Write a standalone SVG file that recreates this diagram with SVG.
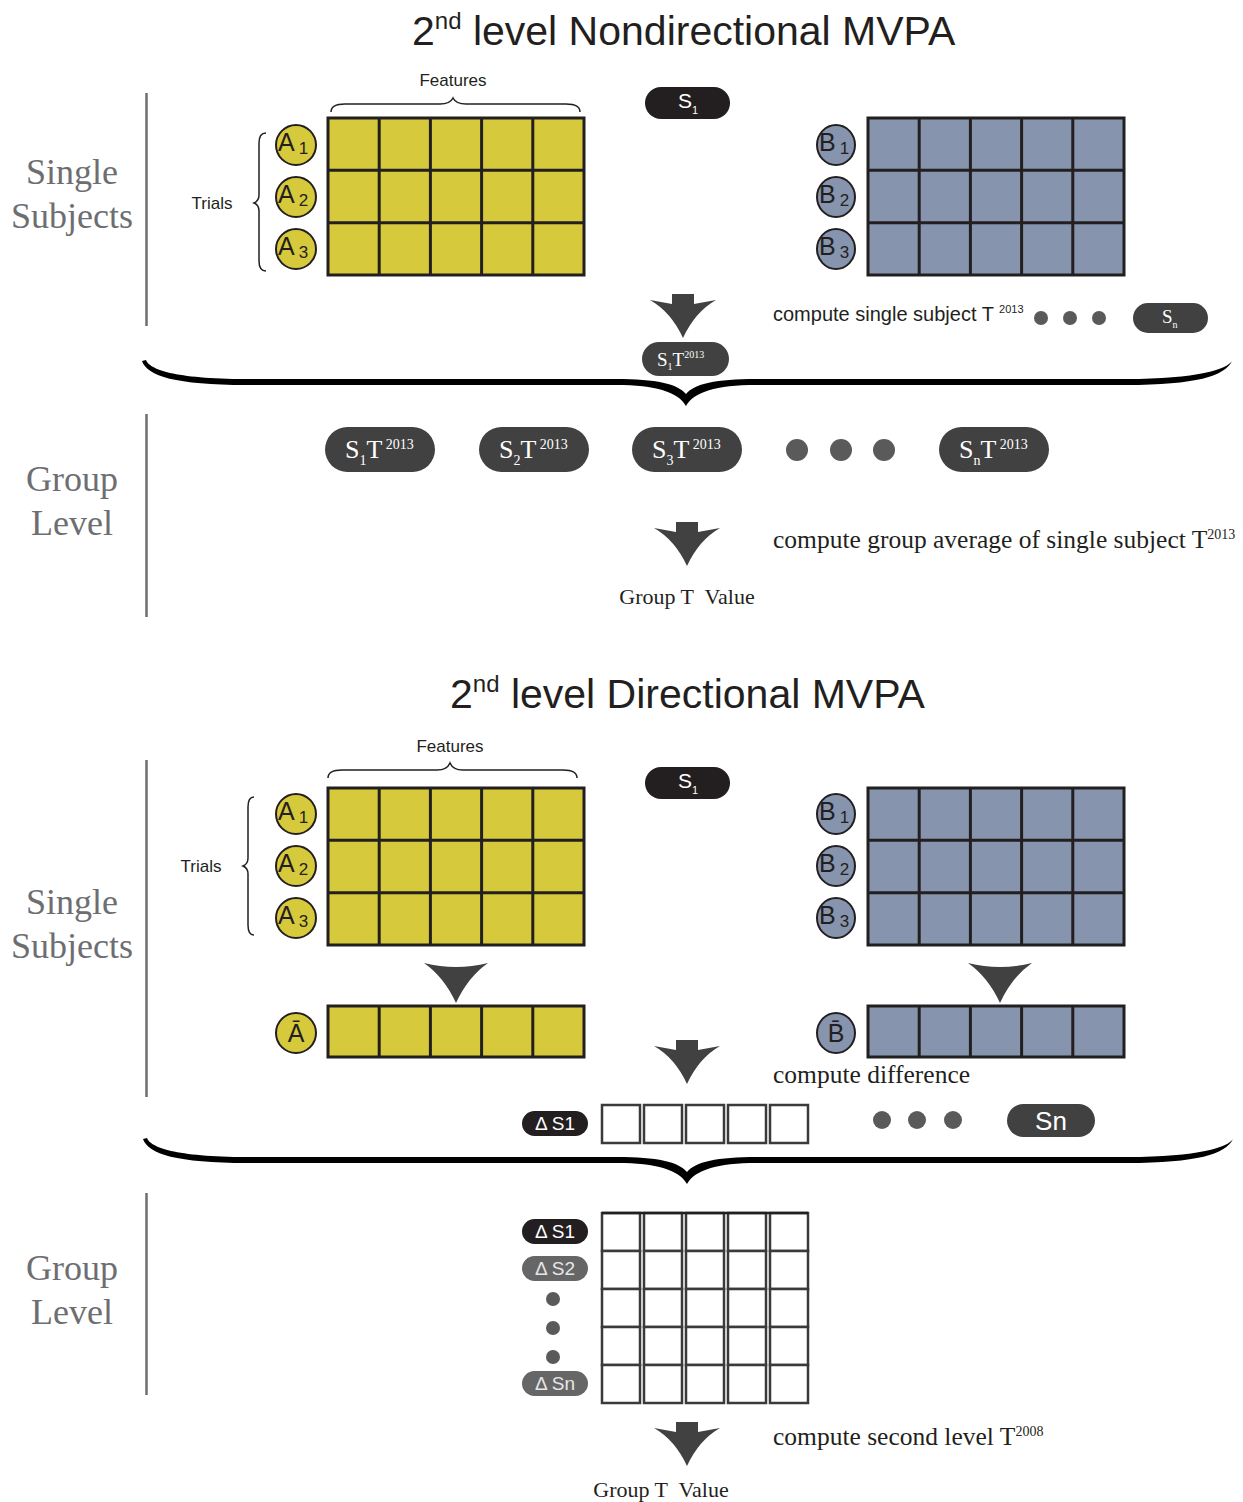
<svg xmlns="http://www.w3.org/2000/svg" width="1243" height="1502" viewBox="0 0 1243 1502">
<style>
.title{font-family:"Liberation Sans",Arial,sans-serif;font-size:41px;fill:#231f20}
.side{font-family:"Liberation Serif","Times New Roman",serif;font-size:36px;fill:#6d6e71;text-anchor:middle}
.vline{stroke:#6d6e71;stroke-width:2.5}
.sans{font-family:"Liberation Sans",Arial,sans-serif;fill:#231f20}
.serif{font-family:"Liberation Serif","Times New Roman",serif;fill:#231f20}
.yel{fill:#d6c93b}
.blu{fill:#8694ad}
.gridline{stroke:#231f20;stroke-width:3;fill:none}
.circY{fill:#d6c93b;stroke:#231f20;stroke-width:2}
.circB{fill:#8694ad;stroke:#231f20;stroke-width:2}
.clab{font-family:"Liberation Sans",Arial,sans-serif;font-size:25px;fill:#231f20}
.brace{fill:none;stroke:#231f20;stroke-width:1.5}
.pillK{fill:#231f20}
.pillD{fill:#414141}
.pillG{fill:#666666}
.wt{fill:#ffffff}
.lt{fill:#e6e6e6}
.dot{fill:#5a5a5a}
.arrow{fill:#414141}
.cell{fill:#ffffff;stroke:#3a3a3a;stroke-width:2.5}
</style>
<defs>
<path id="bigbrace" d="M-544,-21 C-539,-6 -510,3 -440,3 L-70,3 C-30,3 -8,10 0,24 C8,10 30,3 70,3 L440,3 C510,3 539,-6 546,-21 C541,-13 512,-3 440,-3 L70,-3 C30,-3 8,2 0,12 C-8,2 -30,-3 -70,-3 L-440,-3 C-512,-3 -537,-13 -540,-22 Z" fill="#000"/>
<path id="stemArrow" d="M-11,0 L11,0 L11,10 L33,6 Q12,18 0,44 Q-12,18 -33,6 L-11,10 Z"/>
<path id="plainArrow" d="M-32,0 Q0,8 32,0 Q12,14 0,40 Q-12,14 -32,0 Z"/>
<g id="ygrid3">
<rect x="0" y="0" width="256" height="157" class="yel"/>
<path class="gridline" d="M0,0H256V157H0Z M51.2,0V157 M102.4,0V157 M153.6,0V157 M204.8,0V157 M0,52.3H256 M0,104.7H256"/>
</g>
<g id="bgrid3">
<rect x="0" y="0" width="256" height="157" class="blu"/>
<path class="gridline" d="M0,0H256V157H0Z M51.2,0V157 M102.4,0V157 M153.6,0V157 M204.8,0V157 M0,52.3H256 M0,104.7H256"/>
</g>
</defs>

<!-- ===== TOP SECTION ===== -->
<text id="title1" class="title" x="412" y="45">2<tspan font-size="24" dy="-16">nd</tspan><tspan dy="16"> level Nondirectional MVPA</tspan></text>

<g id="side-top">
<line class="vline" x1="146.5" y1="93" x2="146.5" y2="326"/>
<line class="vline" x1="146.5" y1="414" x2="146.5" y2="617"/>
<text class="side" x="72" y="184">Single</text>
<text class="side" x="72" y="228">Subjects</text>
<text class="side" x="72" y="491">Group</text>
<text class="side" x="72" y="535">Level</text>
</g>

<g id="features-top">
<text class="sans" font-size="17" x="453" y="86" text-anchor="middle">Features</text>
<path class="brace" d="M331,112 Q331,104 345,104 L440,104 Q450,104 453,98 Q456,104 466,104 L566,104 Q580,104 580,112"/>
</g>
<g id="trials-top">
<text class="sans" font-size="17" x="212" y="209" text-anchor="middle">Trials</text>
<path class="brace" d="M266,133 Q259,133 259,143 L259,195 Q259,201 254,203 Q259,205 259,211 L259,261 Q259,271 266,271"/>
</g>

<g id="A-matrix-top">
<use href="#ygrid3" x="328" y="118"/>
<circle class="circY" cx="296" cy="145" r="20"/>
<circle class="circY" cx="296" cy="197" r="20"/>
<circle class="circY" cx="296" cy="249" r="20"/>
<text class="clab" x="278" y="151">A<tspan font-size="17" dx="4" dy="3">1</tspan></text>
<text class="clab" x="278" y="203">A<tspan font-size="17" dx="4" dy="3">2</tspan></text>
<text class="clab" x="278" y="255">A<tspan font-size="17" dx="4" dy="3">3</tspan></text>
</g>

<g id="B-matrix-top">
<use href="#bgrid3" x="868" y="118"/>
<ellipse class="circB" cx="836" cy="145" rx="19" ry="20"/>
<ellipse class="circB" cx="836" cy="197" rx="19" ry="20"/>
<ellipse class="circB" cx="836" cy="249" rx="19" ry="20"/>
<text class="clab" x="819" y="151">B<tspan font-size="17" dx="4" dy="3">1</tspan></text>
<text class="clab" x="819" y="203">B<tspan font-size="17" dx="4" dy="3">2</tspan></text>
<text class="clab" x="819" y="255">B<tspan font-size="17" dx="4" dy="3">3</tspan></text>
</g>

<g id="S1-top">
<rect class="pillK" x="645" y="87" width="85" height="32" rx="16"/>
<text class="sans wt" font-size="21" x="678" y="108">S<tspan font-size="11" dy="6">1</tspan></text>
</g>

<g id="S1T-small">
<rect class="pillD" x="642" y="342" width="87" height="34" rx="17"/>
<text class="serif wt" font-size="19" x="657" y="366">S<tspan font-size="10" dy="4">1</tspan><tspan dy="-4">T</tspan><tspan font-size="10" dy="-8">2013</tspan></text>
</g>

<g id="compute-single">
<text class="sans" font-size="20" x="773" y="321">compute single subject T <tspan font-size="11" dy="-8">2013</tspan></text>
</g>
<g id="dots-top">
<circle class="dot" cx="1041" cy="318" r="7"/>
<circle class="dot" cx="1070" cy="318" r="7"/>
<circle class="dot" cx="1099" cy="318" r="7"/>
</g>
<g id="Sn-top">
<rect class="pillD" x="1133" y="303" width="75" height="30" rx="15"/>
<text class="serif wt" font-size="19" x="1162" y="323">S<tspan font-size="10" dy="5">n</tspan></text>
</g>

<g id="group-pills-top">
<rect class="pillD" x="325" y="427" width="110" height="45" rx="22.5"/>
<text class="serif wt" font-size="26" x="345" y="458">S<tspan font-size="14" dy="7">1</tspan><tspan dy="-7">T</tspan><tspan font-size="14" dy="-9"> 2013</tspan></text>
<rect class="pillD" x="479" y="427" width="110" height="45" rx="22.5"/>
<text class="serif wt" font-size="26" x="499" y="458">S<tspan font-size="14" dy="7">2</tspan><tspan dy="-7">T</tspan><tspan font-size="14" dy="-9"> 2013</tspan></text>
<rect class="pillD" x="632" y="427" width="110" height="45" rx="22.5"/>
<text class="serif wt" font-size="26" x="652" y="458">S<tspan font-size="14" dy="7">3</tspan><tspan dy="-7">T</tspan><tspan font-size="14" dy="-9"> 2013</tspan></text>
<circle class="dot" cx="797" cy="450" r="11"/>
<circle class="dot" cx="841" cy="450" r="11"/>
<circle class="dot" cx="884" cy="450" r="11"/>
<rect class="pillD" x="939" y="427" width="110" height="45" rx="22.5"/>
<text class="serif wt" font-size="26" x="959" y="458">S<tspan font-size="14" dy="7">n</tspan><tspan dy="-7">T</tspan><tspan font-size="14" dy="-9"> 2013</tspan></text>
</g>

<g id="result-top">
<text class="serif" font-size="25.5" x="773" y="548">compute group average of single subject T<tspan font-size="14" dy="-9">2013</tspan></text>
<text class="serif" font-size="22" x="687" y="604" text-anchor="middle">Group T&#160; Value</text>
</g>

<!-- ===== BOTTOM SECTION ===== -->
<text id="title2" class="title" x="450" y="708">2<tspan font-size="24" dy="-16">nd</tspan><tspan dy="16"> level Directional MVPA</tspan></text>

<g id="side-bottom">
<line class="vline" x1="146.5" y1="760" x2="146.5" y2="1097"/>
<line class="vline" x1="146.5" y1="1193" x2="146.5" y2="1395"/>
<text class="side" x="72" y="914">Single</text>
<text class="side" x="72" y="958">Subjects</text>
<text class="side" x="72" y="1280">Group</text>
<text class="side" x="72" y="1324">Level</text>
</g>

<g id="features-bottom">
<text class="sans" font-size="17" x="450" y="752" text-anchor="middle">Features</text>
<path class="brace" d="M328,778 Q328,770 342,770 L437,770 Q447,770 450,763 Q453,770 463,770 L563,770 Q577,770 577,778"/>
</g>
<g id="trials-bottom">
<text class="sans" font-size="17" x="201" y="872" text-anchor="middle">Trials</text>
<path class="brace" d="M254,797 Q248,797 248,807 L248,858 Q248,864 243,866 Q248,868 248,874 L248,925 Q248,935 254,935"/>
</g>

<g id="A-matrix-bottom">
<use href="#ygrid3" x="328" y="788"/>
<circle class="circY" cx="296" cy="814" r="20"/>
<circle class="circY" cx="296" cy="866" r="20"/>
<circle class="circY" cx="296" cy="918" r="20"/>
<text class="clab" x="278" y="820">A<tspan font-size="17" dx="4" dy="3">1</tspan></text>
<text class="clab" x="278" y="872">A<tspan font-size="17" dx="4" dy="3">2</tspan></text>
<text class="clab" x="278" y="924">A<tspan font-size="17" dx="4" dy="3">3</tspan></text>
</g>

<g id="B-matrix-bottom">
<use href="#bgrid3" x="868" y="788"/>
<ellipse class="circB" cx="836" cy="814" rx="19" ry="20"/>
<ellipse class="circB" cx="836" cy="866" rx="19" ry="20"/>
<ellipse class="circB" cx="836" cy="918" rx="19" ry="20"/>
<text class="clab" x="819" y="820">B<tspan font-size="17" dx="4" dy="3">1</tspan></text>
<text class="clab" x="819" y="872">B<tspan font-size="17" dx="4" dy="3">2</tspan></text>
<text class="clab" x="819" y="924">B<tspan font-size="17" dx="4" dy="3">3</tspan></text>
</g>

<g id="S1-bottom">
<rect class="pillK" x="645" y="767" width="85" height="32" rx="16"/>
<text class="sans wt" font-size="21" x="678" y="788">S<tspan font-size="11" dy="6">1</tspan></text>
</g>

<g id="A-mean">
<rect x="328" y="1006" width="256" height="51" class="yel"/>
<path class="gridline" d="M328,1006H584V1057H328Z M379.2,1006V1057 M430.4,1006V1057 M481.6,1006V1057 M532.8,1006V1057"/>
<circle class="circY" cx="296" cy="1033" r="20"/>
<text class="clab" x="296" y="1042" text-anchor="middle">Ā</text>
</g>
<g id="B-mean">
<rect x="868" y="1006" width="256" height="51" class="blu"/>
<path class="gridline" d="M868,1006H1124V1057H868Z M919.2,1006V1057 M970.4,1006V1057 M1021.6,1006V1057 M1072.8,1006V1057"/>
<ellipse class="circB" cx="836" cy="1033" rx="19" ry="20"/>
<text class="clab" x="836" y="1042" text-anchor="middle">B̄</text>
</g>

<g id="compute-diff">
<text class="serif" font-size="25.5" x="773" y="1083">compute difference</text>
</g>

<g id="dS1-row">
<rect class="pillK" x="522" y="1111" width="66" height="25" rx="12.5"/>
<text class="sans wt" font-size="19" x="555" y="1130" text-anchor="middle">Δ S1</text>
<rect class="cell" x="602" y="1105" width="38" height="38"/>
<rect class="cell" x="644" y="1105" width="38" height="38"/>
<rect class="cell" x="686" y="1105" width="38" height="38"/>
<rect class="cell" x="728" y="1105" width="38" height="38"/>
<rect class="cell" x="770" y="1105" width="38" height="38"/>
</g>
<g id="dots-diff">
<circle class="dot" cx="882" cy="1120" r="9"/>
<circle class="dot" cx="917" cy="1120" r="9"/>
<circle class="dot" cx="953" cy="1120" r="9"/>
</g>
<g id="Sn-bottom">
<rect class="pillD" x="1007" y="1104" width="88" height="33" rx="16.5"/>
<text class="sans wt" font-size="26" x="1051" y="1130" text-anchor="middle">Sn</text>
</g>

<g id="group-matrix">
<g fill="#fff" stroke="#3a3a3a" stroke-width="2.5">
<rect x="602" y="1213" width="38" height="38"/><rect x="644" y="1213" width="38" height="38"/><rect x="686" y="1213" width="38" height="38"/><rect x="728" y="1213" width="38" height="38"/><rect x="770" y="1213" width="38" height="38"/>
<rect x="602" y="1251" width="38" height="38"/><rect x="644" y="1251" width="38" height="38"/><rect x="686" y="1251" width="38" height="38"/><rect x="728" y="1251" width="38" height="38"/><rect x="770" y="1251" width="38" height="38"/>
<rect x="602" y="1289" width="38" height="38"/><rect x="644" y="1289" width="38" height="38"/><rect x="686" y="1289" width="38" height="38"/><rect x="728" y="1289" width="38" height="38"/><rect x="770" y="1289" width="38" height="38"/>
<rect x="602" y="1327" width="38" height="38"/><rect x="644" y="1327" width="38" height="38"/><rect x="686" y="1327" width="38" height="38"/><rect x="728" y="1327" width="38" height="38"/><rect x="770" y="1327" width="38" height="38"/>
<rect x="602" y="1365" width="38" height="38"/><rect x="644" y="1365" width="38" height="38"/><rect x="686" y="1365" width="38" height="38"/><rect x="728" y="1365" width="38" height="38"/><rect x="770" y="1365" width="38" height="38"/>
</g>
<path d="M602,1213H808" stroke="#231f20" stroke-width="2.5"/>
</g>
<g id="group-labels">
<rect class="pillK" x="522" y="1219" width="66" height="25" rx="12.5"/>
<text class="sans wt" font-size="19" x="555" y="1238" text-anchor="middle">Δ S1</text>
<rect class="pillG" x="522" y="1256" width="66" height="25" rx="12.5"/>
<text class="sans lt" font-size="19" x="555" y="1275" text-anchor="middle">Δ S2</text>
<circle class="dot" cx="553" cy="1299" r="7"/>
<circle class="dot" cx="553" cy="1328" r="7"/>
<circle class="dot" cx="553" cy="1357" r="7"/>
<rect class="pillG" x="522" y="1371" width="66" height="25" rx="12.5"/>
<text class="sans lt" font-size="19" x="555" y="1390" text-anchor="middle">Δ Sn</text>
</g>

<g id="result-bottom">
<text class="serif" font-size="25.5" x="773" y="1445">compute second level T<tspan font-size="14" dy="-9">2008</tspan></text>
<text class="serif" font-size="22" x="661" y="1497" text-anchor="middle">Group T&#160; Value</text>
</g>

<!-- connectors -->
<g id="connectors">
<use href="#stemArrow" class="arrow" x="683" y="294"/>
<use href="#bigbrace" x="686" y="382"/>
<use href="#stemArrow" class="arrow" x="687" y="522"/>
<use href="#plainArrow" class="arrow" x="456" y="963"/>
<use href="#plainArrow" class="arrow" x="1000" y="963"/>
<use href="#stemArrow" class="arrow" x="687" y="1040"/>
<use href="#bigbrace" x="687" y="1160"/>
<use href="#stemArrow" class="arrow" x="687" y="1422"/>
</g>
</svg>
